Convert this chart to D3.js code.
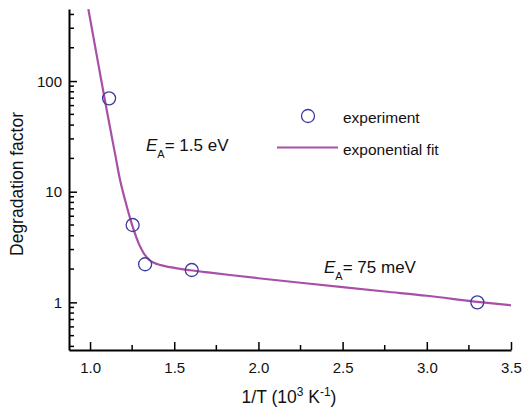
<!DOCTYPE html>
<html><head><meta charset="utf-8">
<script src="https://cdn.jsdelivr.net/npm/d3@7"></script>
<style>body{margin:0;background:#fff}svg{display:block;font-family:"Liberation Sans",Arial,sans-serif}</style>
</head><body><svg id="c" width="526" height="411"></svg>
<script>
// experiment points
const expX = [1.113, 1.253, 1.327, 1.604, 3.30];
const expY = [69.8, 5.0, 2.21, 1.96, 1.0];
// exponential fit curve
const fitX = [0.99, 1.05, 1.099, 1.15, 1.178, 1.208, 1.253, 1.29, 1.317, 1.35, 1.376, 1.42, 1.475, 1.594, 1.713, 1.831, 2.0, 2.25, 2.5, 2.75, 3.0, 3.3, 3.5];
const fitY = [447, 140, 54.7, 21.4, 12.8, 8.4, 4.83, 3.38, 2.81, 2.43, 2.29, 2.17, 2.08, 1.95, 1.853, 1.766, 1.652, 1.503, 1.371, 1.253, 1.148, 1.01, 0.94];
const xTicks = [1.0, 1.5, 2.0, 2.5, 3.0, 3.5];
const xMinor = [1.25, 1.75, 2.25, 2.75, 3.25];
const yTicks = [1, 10, 100];
const yMinor = [0.4,0.5,0.6,0.7,0.8,0.9,2,3,4,5,6,7,8,9,20,30,40,50,60,70,80,90,200,300,400];

const svg = d3.select("#c");
const x = d3.scaleLinear().domain([0.875, 3.5]).range([69, 511]);
const y = d3.scaleLog().domain([0.371, 448]).range([350, 9]);

const purple = "#a84fa8", blue = "#3d3da0";

// fit line
const fit = fitX.map((v,i)=>[v, fitY[i]]);
svg.append("path").datum(fit)
  .attr("fill","none").attr("stroke",purple).attr("stroke-width",2.2)
  .attr("d", d3.line().x(d=>x(d[0])).y(d=>y(d[1])).curve(d3.curveMonotoneX));

// points
svg.selectAll("circle.pt").data(expX.map((v,i)=>[v,expY[i]])).enter()
  .append("circle").attr("class","pt")
  .attr("cx",d=>x(d[0])).attr("cy",d=>y(d[1])).attr("r",6.5)
  .attr("fill","none").attr("stroke",blue).attr("stroke-width",1.3);

// axes
const xAxis = svg.append("g").attr("transform","translate(0,350)")
  .call(d3.axisBottom(x).tickValues(xTicks).tickFormat(d3.format(".1f")).tickSizeInner(-8).tickSizeOuter(0).tickPadding(12));
xAxis.append("g").selectAll("line").data(xMinor).enter().append("line")
  .attr("x1",d=>x(d)).attr("x2",d=>x(d)).attr("y1",0).attr("y2",-5).attr("stroke","#000").attr("stroke-width",1.5);

const yAxis = svg.append("g").attr("transform","translate(69,0)")
  .call(d3.axisLeft(y).tickValues(yTicks).tickFormat(d3.format("d")).tickSizeInner(-8).tickSizeOuter(0).tickPadding(15));
yAxis.append("g").selectAll("line").data(yMinor).enter().append("line")
  .attr("y1",d=>y(d)).attr("y2",d=>y(d)).attr("x1",0).attr("x2",5).attr("stroke","#000").attr("stroke-width",1.5);

[xAxis,yAxis].forEach(a=>{
  a.select(".domain").attr("stroke","#000").attr("stroke-width",2);
  a.selectAll(".tick line").attr("stroke","#000").attr("stroke-width",1.5);
  a.selectAll(".tick text").attr("font-size",15).attr("fill","#111").attr("font-family","Liberation Sans, Arial, sans-serif");
});
yAxis.selectAll(".tick text").attr("x",-7).attr("dy","0.35em");

// axis titles
const xt = svg.append("text").attr("x",289).attr("y",403).attr("text-anchor","middle").attr("font-size",17.5).attr("fill","#111");
xt.append("tspan").text("1/T (10");
xt.append("tspan").attr("dy",-7).attr("font-size",12).text("3");
xt.append("tspan").attr("dy",7).text(" K");
xt.append("tspan").attr("dy",-7).attr("font-size",12).text("-1");
xt.append("tspan").attr("dy",7).text(")");

svg.append("text").attr("transform","translate(23,184) rotate(-90)").attr("text-anchor","middle")
  .attr("font-size",17.5).attr("fill","#111").text("Degradation factor");

// legend
svg.append("circle").attr("cx",308).attr("cy",116).attr("r",6.5).attr("fill","none").attr("stroke",blue).attr("stroke-width",1.3);
svg.append("text").attr("x",343).attr("y",122.5).attr("font-size",15.5).attr("fill","#111").text("experiment");
svg.append("line").attr("x1",277).attr("x2",338).attr("y1",147.5).attr("y2",147.5).attr("stroke",purple).attr("stroke-width",2.2);
svg.append("text").attr("x",343).attr("y",155).attr("font-size",15.5).attr("fill","#111").text("exponential fit");

// annotations
function ea(px, py, rest){
  const t = svg.append("text").attr("x",px).attr("y",py).attr("font-size",17).attr("fill","#111");
  t.append("tspan").attr("font-style","italic").text("E");
  t.append("tspan").attr("dy",6.5).attr("font-size",11).text("A");
  t.append("tspan").attr("dy",-6.5).text("= " + rest);
}
ea(146, 151, "1.5 eV");
ea(324, 273, "75 meV");
</script></body></html>
